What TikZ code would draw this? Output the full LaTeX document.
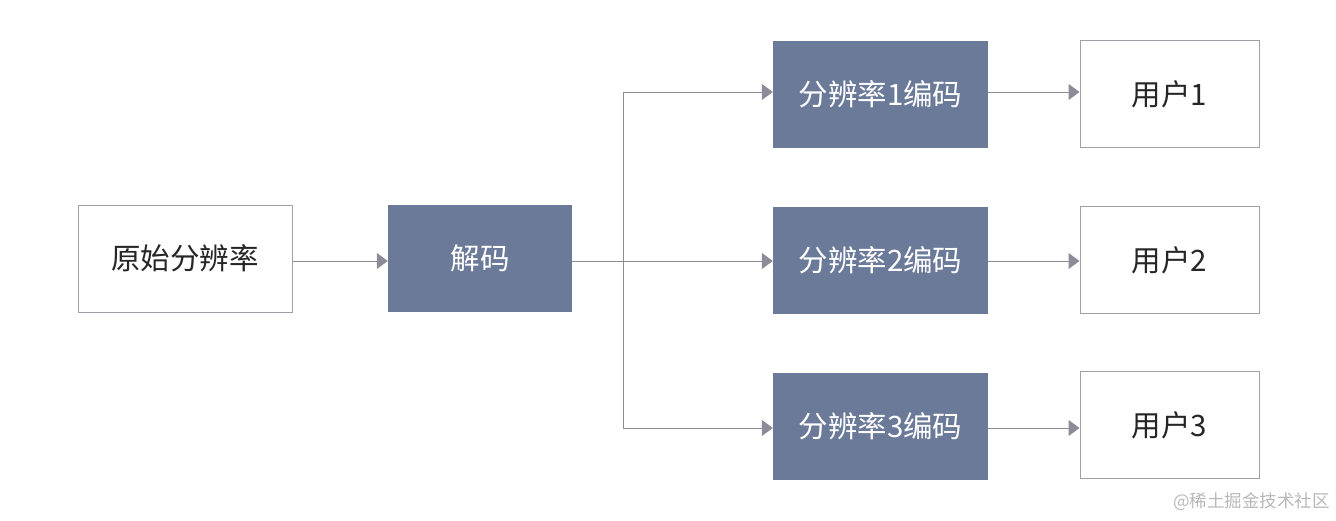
\documentclass[tikz,border=0pt]{standalone}
\usepackage{fontspec}
\setmainfont{Noto Sans CJK SC}
\usetikzlibrary{arrows.meta}
\definecolor{slate}{HTML}{6B7A99}
\definecolor{edge}{HTML}{8C8C99}
\definecolor{bord}{HTML}{A0A0A8}
\definecolor{wm}{HTML}{B8B8B8}
\tikzset{
  whitebox/.style={draw=bord, line width=1pt, fill=white, minimum width=#1, minimum height=107pt, inner sep=0pt, font=\fontsize{29.5}{34}\selectfont, text=black!85},
  darkbox/.style={draw=none, fill=slate, minimum width=#1, minimum height=107pt, inner sep=0pt, font=\fontsize{29.5}{34}\selectfont, text=white},
  conn/.style={draw=edge, line width=1pt, -{Triangle[length=11pt,width=16pt]}},
  plain/.style={draw=edge, line width=1pt}
}
\begin{document}
\begin{tikzpicture}[x=1pt,y=-1pt]
\useasboundingbox (0,0) rectangle (1336,520);
\node[whitebox=214pt] (src) at (185,258.5) {原始分辨率};
\node[darkbox=184pt] (dec) at (480,258.5) {解码};
\node[darkbox=215pt] (e1) at (880.5,94) {分辨率1编码};
\node[darkbox=215pt] (e2) at (880.5,260.5) {分辨率2编码};
\node[darkbox=215pt] (e3) at (880.5,426) {分辨率3编码};
\node[whitebox=179pt] (u1) at (1169.5,94) {用户1};
\node[whitebox=179pt] (u2) at (1169.5,260) {用户2};
\node[whitebox=179pt] (u3) at (1169.5,425) {用户3};
\coordinate (br) at (623,261);
\coordinate (b1) at (623,92);
\coordinate (b3) at (623,428);
\draw[conn] (src.east |- 0,261) -- (dec.west |- 0,261);
\draw[plain] (dec.east |- 0,261) -- (br);
\draw[plain] (b1) -- (b3);
\draw[conn] (b1) -- (e1.west |- b1);
\draw[conn] (br) -- (e2.west |- br);
\draw[conn] (b3) -- (e3.west |- b3);
\draw[conn] (e1.east |- 0,92) -- (u1.west |- 0,92);
\draw[conn] (e2.east |- 0,261) -- (u2.west |- 0,261);
\draw[conn] (e3.east |- 0,428) -- (u3.west |- 0,428);
\node[anchor=east, text=wm, font=\fontsize{17.5}{20}\selectfont, inner sep=0pt] (wmk) at (1330,502) {@稀土掘金技术社区};
\end{tikzpicture}
\end{document}
